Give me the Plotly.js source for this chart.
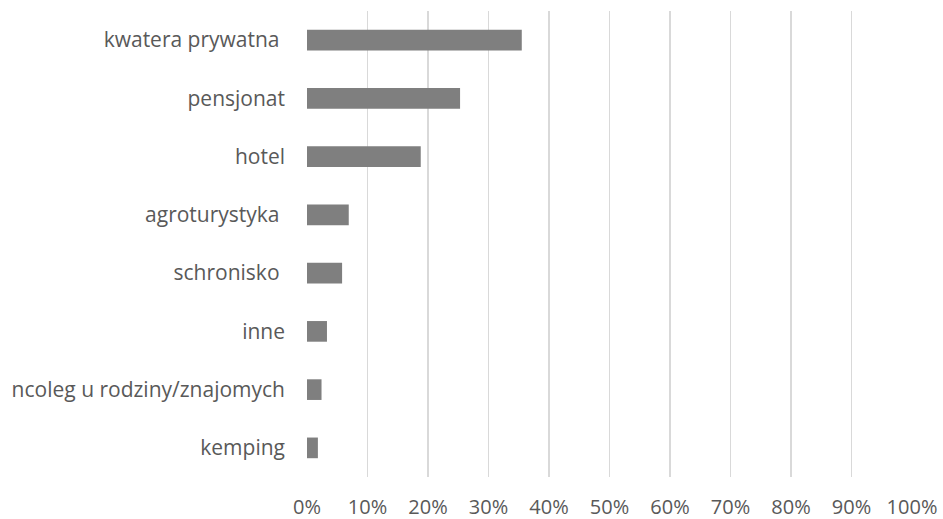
<!DOCTYPE html>
<html>
<head>
<meta charset="utf-8">
<script src="https://cdn.plot.ly/plotly-3.0.1.min.js"></script>
<style>html,body{margin:0;padding:0;background:#fff;}#chart{width:943px;height:519px;}</style>
</head>
<body>
<div id="chart"></div>
<script>
const categories = ["kwatera prywatna ", "pensjonat", "hotel", "agroturystyka ", "schronisko ", "inne", "ncoleg u rodziny/znajomych", "kemping"];
const values = [0.355, 0.253, 0.188, 0.069, 0.058, 0.033, 0.024, 0.018];
const xTickVals = [0, 0.1, 0.2, 0.3, 0.4, 0.5, 0.6, 0.7, 0.8, 0.9, 1.0];
const xTickText = ["0%", "10%", "20%", "30%", "40%", "50%", "60%", "70%", "80%", "90%", "100%"];

const labelText = categories.map(c => c.replace(/ +$/, m => "\u00a0".repeat(m.length)));

Plotly.newPlot('chart', [{
  type: 'bar',
  orientation: 'h',
  y: categories,
  x: values,
  marker: {color: '#7f7f7f'},
  hoverinfo: 'none'
}], {
  width: 943, height: 519,
  margin: {l: 306.5, r: 30.7, t: 11, b: 42},
  paper_bgcolor: '#fff', plot_bgcolor: '#fff',
  bargap: 0.645,
  font: {family: '"Open Sans", sans-serif', size: 21, color: '#595959'},
  xaxis: {
    range: [0, 1.0], tickvals: xTickVals, ticktext: xTickText,
    tickfont: {size: 20},
    showgrid: true, gridcolor: '#d9d9d9', gridwidth: 1.5,
    zeroline: false, showline: false, ticks: '',
    ticklabelstandoff: 16, fixedrange: true
  },
  yaxis: {
    type: 'category', autorange: 'reversed',
    tickvals: categories, ticktext: labelText,
    showgrid: false, zeroline: false, showline: false, ticks: '',
    ticklabelstandoff: 21, fixedrange: true
  },
  showlegend: false
}, {displayModeBar: false, staticPlot: true});
</script>
</body>
</html>
